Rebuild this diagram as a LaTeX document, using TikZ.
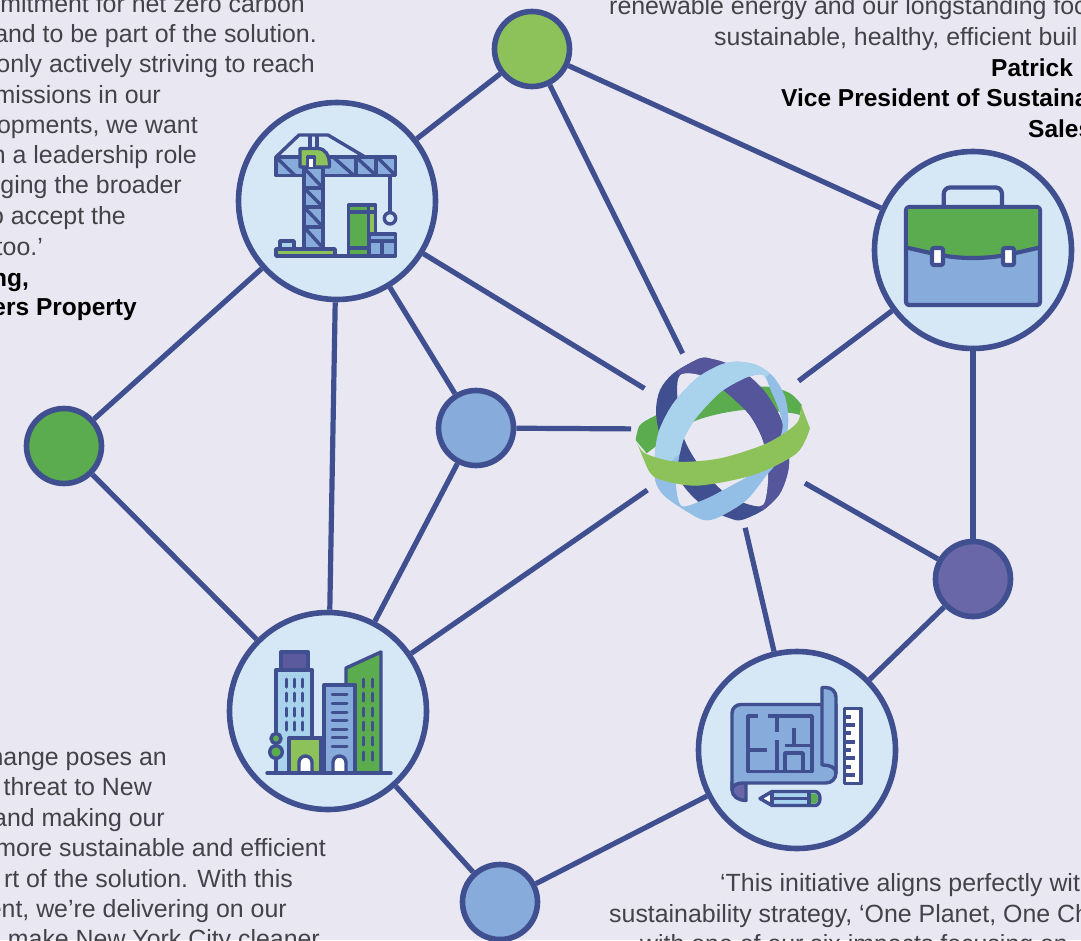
\documentclass[tikz,border=0pt]{standalone}
\usepackage{fontspec}
\setmainfont{Liberation Sans}
\usetikzlibrary{positioning}
\definecolor{pagebg}{RGB}{233,232,242}
\definecolor{linkblue}{RGB}{63,79,143}
\definecolor{paleblue}{RGB}{214,231,245}
\definecolor{midblue}{RGB}{135,171,219}
\definecolor{skyblue}{RGB}{169,211,236}
\definecolor{softblue}{RGB}{147,190,230}
\definecolor{darkgreen}{RGB}{91,171,79}
\definecolor{lightgreen}{RGB}{141,194,91}
\definecolor{violet}{RGB}{106,103,169}
\definecolor{ringviolet}{RGB}{84,85,155}
\definecolor{bodygrey}{RGB}{66,66,72}
\newcommand{\lightring}{plot[smooth cycle] coordinates {(105,340) (118,270) (160,190) (230,115) (300,75) (350,65) (410,75) (460,110) (495,170) (505,240) (495,310) (465,375) (440,405) (380,480) (300,530) (250,540) (185,505) (130,465) (105,420)} plot[smooth cycle] coordinates {(175,365) (190,300) (220,245) (262,195) (310,150) (380,112) (430,105) (452,150) (475,205) (488,260) (465,330) (405,395) (310,450) (250,480) (185,498) (168,435)}}
\newcommand{\violetring}{plot[smooth cycle] coordinates {(240,55) (160,100) (120,150) (108,210) (118,280) (150,370) (200,450) (260,505) (330,535) (365,540) (430,510) (480,460) (505,390) (505,320) (480,230) (430,150) (370,95) (320,70) (280,58)} plot[smooth cycle] coordinates {(180,105) (172,170) (190,290) (240,380) (310,455) (375,490) (430,495) (445,420) (440,350) (425,290) (385,220) (310,150) (240,105)}}
\tikzset{
  bigdisc/.style={circle,draw=linkblue,line width=5.6pt,fill=paleblue,minimum size=197pt,inner sep=0pt},
  smalldisc/.style={circle,draw=linkblue,line width=5.6pt,minimum size=75pt,inner sep=0pt},
  link/.style={draw=linkblue,line width=5.2pt},
  icon/.style={draw=linkblue,line width=3.4pt,line join=round},
  winline/.style={draw=linkblue,line width=3pt,line cap=round},
  caseline/.style={draw=linkblue,line width=4.2pt,line join=round},
  bodytext/.style={text=bodygrey,font=\fontsize{24.9}{30}\selectfont,inner sep=0pt},
  boldtext/.style={text=black,font=\fontsize{24.5}{30}\selectfont\bfseries,inner sep=0pt}
}
\begin{document}
\begin{tikzpicture}[x=1pt,y=-1pt]
\useasboundingbox (0,0) rectangle (1081,940);
\fill[pagebg] (0,0) rectangle (1081,940);
\node[circle,minimum size=186pt,inner sep=0pt] (globe) at (724,437) {};
\node[bigdisc] (crane) at (337,201) {};
\node[bigdisc] (briefcase) at (973,250) {};
\node[bigdisc] (city) at (328,711) {};
\node[bigdisc] (blueprint) at (797,750) {};
\node[smalldisc,fill=lightgreen] (topdot) at (532,49) {};
\node[smalldisc,fill=darkgreen] (leftdot) at (64,446) {};
\node[smalldisc,fill=midblue] (middot) at (476,428) {};
\node[smalldisc,fill=violet] (rightdot) at (973,579) {};
\node[smalldisc,fill=midblue] (lowdot) at (500,902) {};
\draw[link] (topdot) -- (crane);
\draw[link] (topdot) -- (globe);
\draw[link] (topdot) -- (briefcase);
\draw[link] (crane) -- (leftdot);
\draw[link] (crane) -- (city);
\draw[link] (crane) -- (middot);
\draw[link] (crane) -- (globe);
\draw[link] (middot) -- (globe.175);
\draw[link] (middot) -- (city);
\draw[link] (city) -- (leftdot);
\draw[link] (city) -- (globe);
\draw[link] (city) -- (lowdot);
\draw[link] (lowdot) -- (blueprint);
\draw[link] (blueprint) -- (globe);
\draw[link] (blueprint) -- (rightdot);
\draw[link] (rightdot) -- (globe);
\draw[link] (rightdot) -- (briefcase);
\draw[link] (briefcase) -- (globe);

\begin{scope}[shift={(620,340)},x=0.3333pt,y=-0.3333pt]
\fill[darkgreen] plot[smooth] coordinates {(47,300) (60,255) (110,225) (200,185) (300,150) (440,140) (510,160) (545,195)} -- (540,225) -- plot[smooth] coordinates {(540,225) (505,218) (370,210) (220,245) (80,340)} -- cycle;
\fill[linkblue,even odd rule] \violetring;
\begin{scope}
\clip (170,95) -- (430,515) -- (620,515) -- (620,0) -- (170,0) -- cycle;
\fill[ringviolet,even odd rule] \violetring;
\end{scope}
\fill[softblue,even odd rule] \lightring;
\begin{scope}
\clip (90,420) -- (450,100) -- (450,0) -- (0,0) -- (0,420) -- cycle;
\fill[skyblue,even odd rule] \lightring;
\end{scope}
\fill[lightgreen] plot[smooth] coordinates {(47,300) (75,340) (170,365) (300,355) (440,310) (530,250) (543,195)} -- (570,265) -- plot[smooth] coordinates {(570,265) (530,340) (400,405) (230,437) (110,415) (78,375)} -- cycle;
\end{scope}

\draw[icon,fill=midblue] (276,157) rectangle (395.5,175.5);
\draw[icon] (276,157) -- (299,135) -- (328,135) -- (365,157);
\draw[icon] (310,135) -- (310,148) (317,135) -- (317,148);
\draw[icon] (276,157) -- (295,175.5) (333,157) -- (354,175.5) (356,157) -- (376,175.5) (377,157) -- (395.5,175.5);
\draw[icon] (356,157) -- (356,175.5) (376,157) -- (376,175.5);
\draw[icon,fill=midblue] (304,167) rectangle (323,249);
\draw[icon] (304,188) -- (323,188) (304,207) -- (323,207) (304,227) -- (323,227);
\draw[icon] (304,168) -- (323,188) (304,188) -- (323,207) (304,207) -- (323,227) (304,227) -- (323,248);
\draw[icon,fill=lightgreen] (300,167) -- (300,148.5) -- (318,148.5) to[out=0,in=90] (329.5,163) -- (329.5,167) -- cycle;
\draw[icon,fill=white] (307.5,167) -- (307.5,157) -- (314.5,157) -- (314.5,167);
\draw[icon,fill=skyblue] (280,249) rectangle (294,241);
\draw[icon,fill=lightgreen] (276,249) rectangle (335,256);
\draw[icon] (390,176) -- (390,212);
\draw[icon,fill=paleblue] (390,218.3) circle (5.7pt);
\draw[icon,fill=darkgreen] (348.5,205) rectangle (375.5,256);
\fill[lightgreen] (369,207) rectangle (374,232);
\draw[icon] (368.5,205) -- (368.5,234);
\draw[icon] (348.5,212) -- (375.5,212) (348.5,248) -- (370,248);
\draw[icon,fill=midblue] (369,234) rectangle (395.5,256);
\draw[icon] (369,241) -- (395.5,241) (382,241) -- (382,256);
\draw[icon] (335,256) -- (369,256);

\draw[icon,fill=ringviolet!70!violet] (281,652) rectangle (308,670);
\draw[icon,fill=skyblue] (276,670) rectangle (312,773);
\foreach \winx in {286,294,302}
  \foreach \winy in {679,693,708,722}
    \draw[winline] (\winx,\winy) -- (\winx,\winy+8);
\draw[icon,fill=darkgreen] (346,773) -- (346,668) -- (381,652) -- (381,773) -- cycle;
\foreach \winx in {363,372}
  \foreach \winy in {679,693,708,722,737,752}
    \draw[winline] (\winx,\winy) -- (\winx,\winy+8);
\draw[icon,fill=midblue] (324,773) -- (324,685) -- (355,685) -- (355,773);
\foreach \winy in {694,703,712,720,729,737,746}
  \draw[winline] (332,\winy) -- (347,\winy);
\draw[icon,fill=lightgreen] (289,773) -- (289,738) -- (321,738) -- (321,773);
\draw[icon,fill=white] (299,773) -- (299,762.5) arc (180:0:6.5pt) -- (312,773);
\draw[icon,fill=white] (333,773) -- (333,762.5) arc (180:0:6.5pt) -- (346,773);
\draw[icon] (276,752) -- (276,773);
\draw[icon,fill=darkgreen] (276,738.5) circle (5pt);
\draw[icon,fill=darkgreen] (276,752) circle (6.3pt);
\draw[icon,line cap=round] (267,773) -- (391,773);

\draw[icon,fill=violet] (732,782) -- (732,790) to[out=270,in=180] (746,800.5) -- (746,782) -- cycle;
\draw[icon,fill=midblue] (822,704.5) -- (741,704.5) to[out=180,in=90] (732,713) -- (732,790) to[out=90,in=180] (743,783) -- (826,783) to[out=0,in=270] (836,773) -- (836,704.5) -- cycle;
\draw[icon,fill=midblue] (836,773) to[out=90,in=0] (823,765) -- (822,765) -- (822,687.5) -- (826,687.5) to[out=0,in=90] (836,697) -- cycle;
\draw[icon,line width=3.8pt] (758,716) -- (748,716) -- (748,771.5) -- (812,771.5) -- (812,716) -- (768,716);
\draw[icon,line width=3.8pt] (748,750) -- (767,750) (777,716) -- (777,732) (777,740) -- (777,771.5) (785,745.5) -- (812,745.5) (794,728) -- (794,745.5) (785,771.5) -- (785,753) -- (803,753) -- (803,771.5);
\draw[icon,fill=white] (844.5,708.5) rectangle (861,783.5);
\foreach \tickY/\tickX in {717/851,725/855,733/851,742/855,750/851,758/855,767/851,775/855}
  \draw[icon] (845,\tickY) -- (\tickX,\tickY);
\draw[icon,fill=skyblue] (760,798.5) -- (772,791.5) -- (815,791.5) to[out=0,in=90] (820,798.5) to[out=270,in=0] (815,805.5) -- (772,805.5) -- cycle;
\fill[white] (764,798.5) -- (770.5,795) -- (770.5,802) -- cycle;
\draw[icon] (772,791.5) -- (772,805.5) (772,798.5) -- (809,798.5) (809,791.5) -- (809,805.5);
\fill[darkgreen] (811,793.5) -- (815,793.5) to[out=0,in=90] (818,798.5) to[out=270,in=0] (815,803.5) -- (811,803.5) -- cycle;

\draw[caseline] (943.7,207) -- (943.7,194) to[out=90,in=180] (950,187.5) -- (996,187.5) to[out=0,in=90] (1002,194) -- (1002,207);
\draw[caseline,fill=midblue,rounded corners=3pt] (906,207) rectangle (1040,305);
\fill[darkgreen] (908,248) to[out=-12,in=180] (973,258) to[out=0,in=192] (1038,248) -- (1038,209) -- (908,209) -- cycle;
\draw[caseline] (906,247.5) to[out=-12,in=180] (973,258) to[out=0,in=192] (1040,247.5);
\draw[caseline,fill=white,rounded corners=2pt] (932,248) rectangle (943,265);
\draw[caseline,fill=white,rounded corners=2pt] (1003,248) rectangle (1014,265);

\node[bodytext,anchor=base east] (lefta) at (305,12) {mmitment for net zero carbon};
\node[bodytext,anchor=base east] (leftb) at (317,42) {and to be part of the solution.};
\node[bodytext,anchor=base east] (leftc) at (315,72) {only actively striving to reach};
\node[bodytext,anchor=base east] (leftd) at (161,103) {missions in our};
\node[bodytext,anchor=base east] (lefte) at (198,133) {opments, we want};
\node[bodytext,anchor=base east] (leftf) at (197,163) {n a leadership role};
\node[bodytext,anchor=base east] (leftg) at (182,193) {ging the broader};
\node[bodytext,anchor=base east] (lefth) at (126,224) {o accept the};
\node[bodytext,anchor=base east] (lefti) at (43,255) {too.’};
\node[boldtext,anchor=base east] (leftj) at (29,286) {ng,};
\node[boldtext,anchor=base east] (leftk) at (137,315) {ers Property};

\node[bodytext,anchor=base west] (righta) at (609,14.5) {renewable energy and our longstanding foc};
\node[bodytext,anchor=base west] (rightb) at (714,45.5) {sustainable, healthy, efficient buil};
\node[boldtext,anchor=base west] (rightc) at (991,76) {Patrick};
\node[boldtext,anchor=base west] (rightd) at (781,106) {Vice President of Sustaina};
\node[boldtext,anchor=base west] (righte) at (1028,137) {Sales};

\node[bodytext,anchor=base east] (lowa) at (167,765) {hange poses an};
\node[bodytext,anchor=base east] (lowb) at (152,795) {threat to New};
\node[bodytext,anchor=base east] (lowc) at (165,826) {and making our};
\node[bodytext,anchor=base east] (lowd) at (326,856) {more sustainable and efficient};
\node[bodytext,anchor=base east] (lowe) at (293,887) {rt of the solution. With this};
\node[bodytext,anchor=base east] (lowf) at (287,917) {ent, we’re delivering on our};
\node[bodytext,anchor=base east] (lowg) at (320,947) {o make New York City cleaner};

\node[bodytext,anchor=base west] (foota) at (720,891) {‘This initiative aligns perfectly wit};
\node[bodytext,anchor=base west] (footb) at (609,922) {sustainability strategy, ‘One Planet, One Ch};
\node[bodytext,anchor=base west] (footc) at (640,952) {with one of our six impacts focusing on};
\end{tikzpicture}
\end{document}
